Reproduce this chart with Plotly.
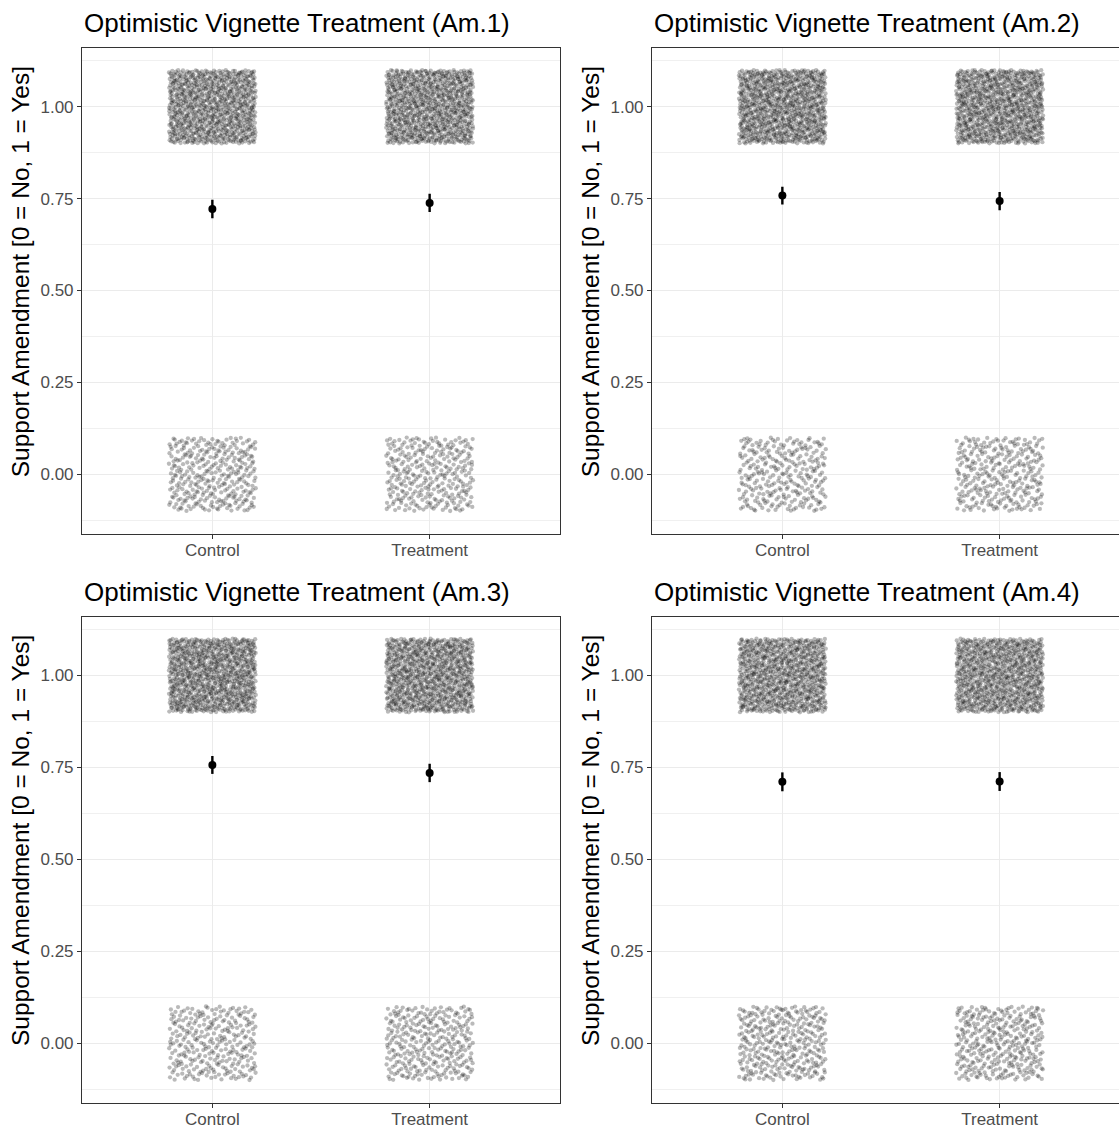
import plotly.graph_objects as go
import numpy as np

# ---- data ----
panel_titles = ["Optimistic Vignette Treatment (Am.1)",
                "Optimistic Vignette Treatment (Am.2)",
                "Optimistic Vignette Treatment (Am.3)",
                "Optimistic Vignette Treatment (Am.4)"]
groups = ["Control", "Treatment"]
# number of respondents answering 1 (Yes) and 0 (No), per panel, per group
yes_counts = [[866, 886], [910, 892], [908, 882], [853, 854]]
no_counts = [[334, 314], [290, 308], [292, 318], [347, 346]]
y_ticks = [0.0, 0.25, 0.5, 0.75, 1.0]
y_tick_labels = ["0.00", "0.25", "0.50", "0.75", "1.00"]
y_title = "Support Amendment [0 = No, 1 = Yes]"

W, H = 1119, 1128
FONT = "Liberation Sans"


def halton(i, b):
    f, r = 1.0, 0.0
    while i > 0:
        f /= b
        r += f * (i % b)
        i //= b
    return r


# pixel layout
left_px = [82, 652]
right_px = [560, 1119]
top_px = [48.3, 617.0]
bot_px = [533.7, 1102.7]
unit_px = (560 - 82) / 2.2

fig = go.Figure()
annotations = []
for p in range(4):
    r, c = divmod(p, 2)
    ax = "" if p == 0 else str(p + 1)
    xref, yref = "x" + ax, "y" + ax
    xs, ys = [], []
    mean_x, mean_y, err = [], [], []
    seed = 1 + p * 5000
    for g in range(2):
        vals = [1] * yes_counts[p][g] + [0] * no_counts[p][g]
        for k, v in enumerate(vals):
            idx = seed + g * 2500 + k
            xs.append(g + 1 + (halton(idx, 2) * 2 - 1) * 0.2)
            ys.append(v + (halton(idx, 3) * 2 - 1) * 0.1)
        arr = np.array(vals, dtype=float)
        m = arr.mean()
        se = arr.std(ddof=1) / np.sqrt(len(arr))
        mean_x.append(g + 1)
        mean_y.append(m)
        err.append(1.96 * se)
    fig.add_trace(go.Scatter(x=xs, y=ys, mode="markers", xaxis=xref, yaxis=yref,
                             marker=dict(color="black", opacity=0.27, size=4.3, line=dict(width=0)),
                             hoverinfo="skip", showlegend=False))
    fig.add_trace(go.Scatter(x=mean_x, y=mean_y, mode="markers", xaxis=xref, yaxis=yref,
                             marker=dict(color="black", size=8),
                             error_y=dict(type="data", array=err, visible=True,
                                          color="black", thickness=2.4, width=0),
                             showlegend=False))

    xmax = 0.4 + (right_px[c] - left_px[c]) / unit_px
    xd = [left_px[c] / W, right_px[c] / W]
    yd = [1 - bot_px[r] / H, 1 - top_px[r] / H]
    axis_common = dict(showline=True, linecolor="#333333", linewidth=1.1,
                       ticks="outside", ticklen=4, tickcolor="#333333", tickwidth=1.1,
                       gridcolor="#EBEBEB", gridwidth=1.3, zeroline=False)
    fig.update_layout(**{
        "xaxis" + ax: dict(domain=xd, range=[0.4, xmax], tickvals=[1, 2], ticktext=groups,
                           mirror=True, anchor=yref, ticklabelstandoff=-3,
                           tickfont=dict(family=FONT, size=17, color="#4D4D4D"),
                           **axis_common),
        "yaxis" + ax: dict(domain=yd, range=[-0.1616, 1.159], tickvals=y_ticks,
                           ticktext=y_tick_labels, mirror=(c == 0), anchor=xref,
                           tickfont=dict(family=FONT, size=17, color="#4D4D4D"),
                           minor=dict(tickvals=[-0.125, 0.125, 0.375, 0.625, 0.875, 1.125],
                                      showgrid=True, gridcolor="#F0F0F0", gridwidth=0.7,
                                      ticklen=0),
                           **axis_common),
    })
    annotations.append(dict(text=panel_titles[p], xref="paper", yref="paper",
                            x=left_px[c] / W, y=1 - (23 + (top_px[r] - top_px[0])) / H,
                            xanchor="left", yanchor="middle", showarrow=False,
                            font=dict(family=FONT, size=26, color="black")))
    annotations.append(dict(text=y_title, xref="paper", yref="paper",
                            x=(20 + left_px[c] - 82) / W,
                            y=1 - (top_px[r] + 224) / H,
                            xanchor="center", yanchor="middle", textangle=-90, showarrow=False,
                            font=dict(family=FONT, size=24.5, color="black")))

fig.update_layout(width=W, height=H, margin=dict(l=0, r=0, t=0, b=0),
                  paper_bgcolor="white", plot_bgcolor="white",
                  annotations=annotations, showlegend=False)
fig.write_html("out.html")
